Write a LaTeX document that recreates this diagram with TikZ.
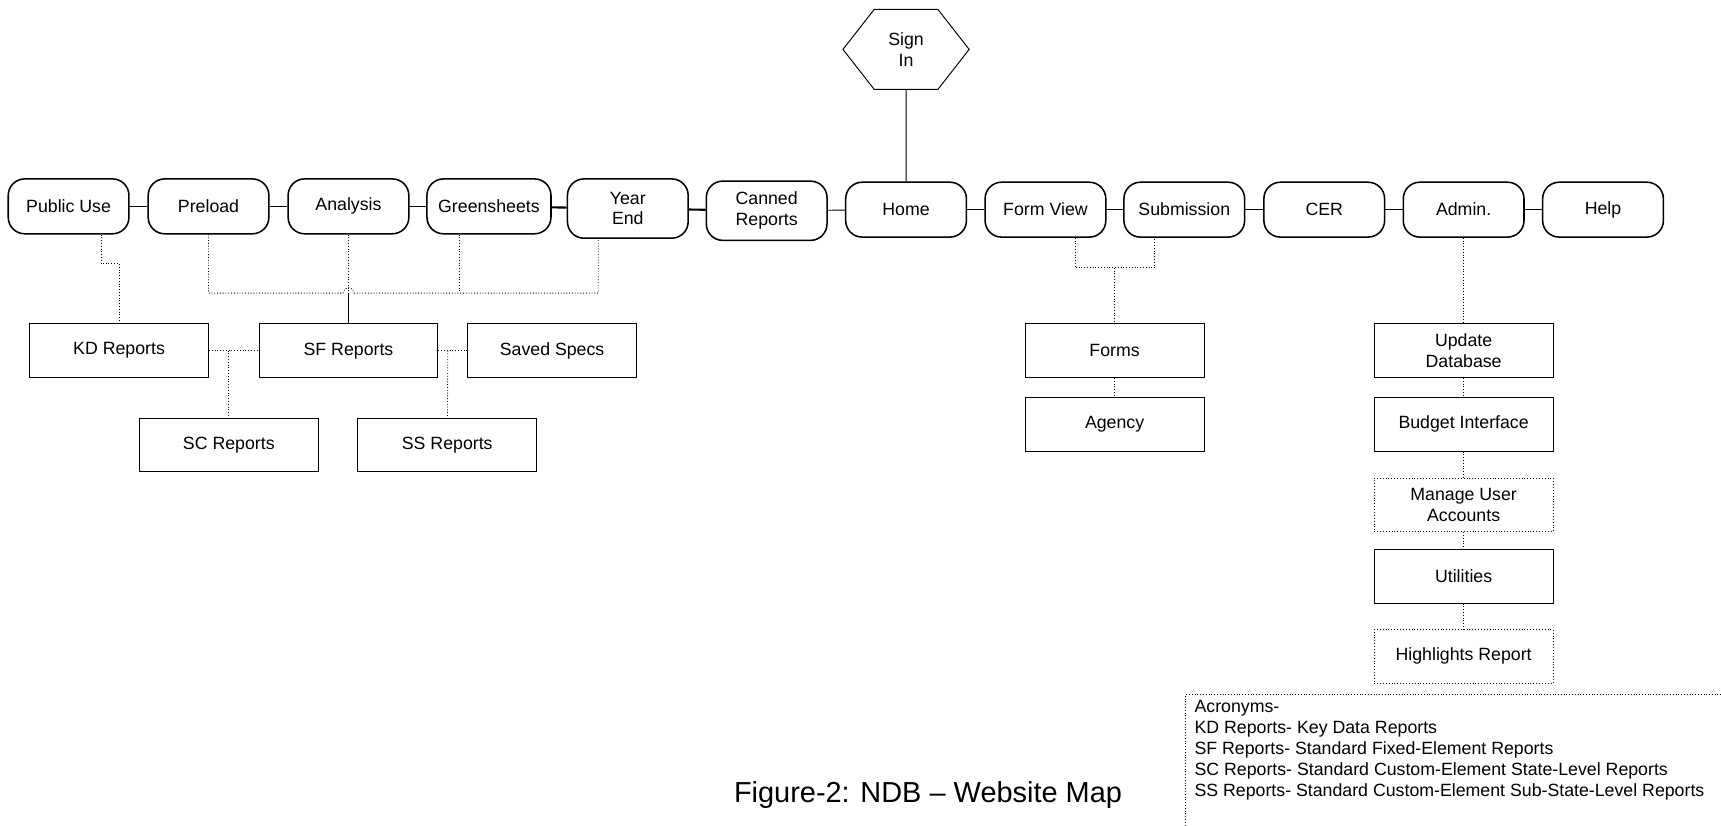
\documentclass[tikz,border=0pt]{standalone}
\usepackage{fontspec}
\setmainfont{Liberation Sans}
\usetikzlibrary{shapes.symbols, positioning}

\begin{document}
\begin{tikzpicture}[
    x=0.02cm, y=-0.02cm,
    font=\fontsize{9.2}{10.8}\selectfont,
    page/.style={draw, line width=0.8pt, rounded corners=0.3cm, align=center, minimum width=2.2cm, minimum height=1cm, inner sep=1pt},
    report/.style={draw, line width=0.5pt, align=center, minimum width=3.26cm, minimum height=0.98cm},
    tool/.style={report, densely dotted},
    link/.style={densely dotted, line width=0.45pt},
    bar/.style={line width=0.5pt},
    heavy/.style={line width=1.1pt}
]
\useasboundingbox (0,0) rectangle (1568,752);

% Sign in
\node[draw, line width=0.5pt, signal, signal to=west and east, signal pointer angle=104, minimum width=2.3cm, minimum height=1.46cm, align=center, inner sep=0pt] (signin) at (825.5,45) {Sign\\In};

% Top menu
\node[page] (pubuse) at (62.5,188) {Public Use};
\node[page] (preload) at (190,188) {Preload};
\node[page] (analysis) at (317.5,188) {Analysis};
\node[page, minimum width=2.26cm] (greens) at (445.5,188) {Greensheets};
\node[page, minimum height=1.08cm] (yearend) at (572,190) {Year\\End};
\node[page, minimum height=1.08cm] (canned) at (698.5,192) {Canned\\Reports};
\node[page] (home) at (825.5,191) {Home};
\node[page] (formview) at (952.5,191) {Form View};
\node[page] (submit) at (1079,191) {Submission};
\node[page] (cer) at (1206.5,191) {CER};
\node[page] (admin) at (1333.5,191) {Admin.};
\node[page] (help) at (1460.5,191) {Help};

\draw[bar] (signin) -- (home);
\draw[bar] (pubuse) -- (preload);
\draw[bar] (preload) -- (analysis);
\draw[bar] (analysis) -- (greens);
\draw[heavy] (greens) -- (yearend);
\draw[heavy] (yearend) -- (canned);
\draw[bar] (canned) -- (home);
\draw[bar] (home) -- (formview);
\draw[bar] (formview) -- (submit);
\draw[bar] (submit) -- (cer);
\draw[bar] (cer) -- (admin);
\draw[bar] (admin) -- (help);

% Report pages
\node[report] (kd) at (108.5,319.5) {KD Reports};
\node[report] (sf) at (317.5,319.5) {SF Reports};
\node[report, minimum width=3.08cm] (saved) at (503,319.5) {Saved Specs};
\node[report] (sc) at (208.5,405.5) {SC Reports};
\node[report] (ss) at (407.5,405.5) {SS Reports};

\coordinate (kdjog) at (92,240);
\coordinate (hop) at (317.5,267);
\coordinate (scjoin) at (208.5,319.5);
\coordinate (ssjoin) at (408,319.5);

\draw[link] (pubuse.south -| kdjog) -- (kdjog) -| (kd.north);
\draw[link] (analysis) -- (hop);
\draw[bar] (hop) -- (sf);
\draw[link] (preload.south) |- ([xshift=-0.1cm]hop) arc[start angle=180, end angle=0, radius=0.1cm] -| ([xshift=-0.54cm]yearend.south);
\draw[link] ([xshift=-0.54cm]greens.south) -- ([xshift=-0.54cm]greens.south |- hop);
\draw[link] (kd) -- (sf);
\draw[link] (scjoin) -- (sc);
\draw[link] (sf) -- (saved);
\draw[link] (ssjoin) -- (ss);

% Form pages
\node[report] (forms) at (1015.5,319.5) {Forms};
\node[report] (agency) at (1015.5,386.5) {Agency};
\coordinate (fjoin) at (1015.5,244);

\draw[link] ([xshift=0.54cm]formview.south) |- (fjoin) -| ([xshift=-0.54cm]submit.south);
\draw[link] (fjoin) -- (forms);
\draw[link] (forms) -- (agency);

% Admin pages
\node[report] (update) at (1333.5,319.5) {Update\\Database};
\node[report] (budget) at (1333.5,386.5) {Budget Interface};
\node[tool] (manage) at (1333.5,460) {Manage User\\Accounts};
\node[report] (util) at (1333.5,525) {Utilities};
\node[tool] (highlight) at (1333.5,598) {Highlights Report};

\draw[link] (admin) -- (update);
\draw[link] (update) -- (budget);
\draw[link] (budget) -- (manage);
\draw[link] (manage) -- (util);
\draw[link] (util) -- (highlight);

% Acronyms and caption
\node[anchor=north west, align=left, inner sep=0pt] (acro) at (1088,638) {Acronyms-\\KD Reports- Key Data Reports\\SF Reports- Standard Fixed-Element Reports\\SC Reports- Standard Custom-Element State-Level Reports\\SS Reports- Standard Custom-Element Sub-State-Level Reports};
\draw[link] (1080,752) |- (1568,633);
\node[font=\fontsize{15}{18}\selectfont] (caption) at (845.5,724) {Figure-2: NDB – Website Map};

\end{tikzpicture}
\end{document}
